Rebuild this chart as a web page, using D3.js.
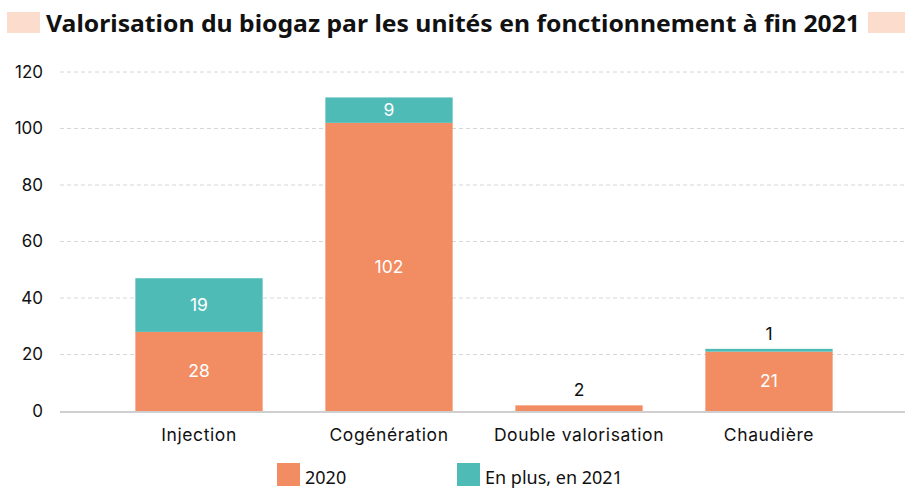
<!DOCTYPE html>
<html>
<head>
<meta charset="utf-8">
<script src="https://cdn.jsdelivr.net/npm/d3@7"></script>
<style>
  body { margin: 0; background: #fff; }
  svg { display: block; }
</style>
</head>
<body>
<svg id="chart" width="909" height="488"></svg>
<script>
var categories = ["Injection", "Cogénération", "Double valorisation", "Chaudière"];
var values2020 = [28, 102, 2, 21];
var values2021 = [19, 9, 0, 1];
var seriesNames = ["2020", "En plus, en 2021"];
var yTicks = [0, 20, 40, 60, 80, 100, 120];
var colors = ["#F28C62", "#4FBBB7"];

var svg = d3.select("#chart"),
    margin = { top: 72, right: 4, bottom: 77, left: 60 },
    width = +svg.attr("width") - margin.left - margin.right,
    height = +svg.attr("height") - margin.top - margin.bottom;

var axisFont = "Inter, 'Open Sans', sans-serif";

// title with peach blocks on both sides
svg.append("rect").attr("x", 7).attr("y", 12).attr("width", 33).attr("height", 21).attr("fill", "#FCDDCD");
svg.append("rect").attr("x", 868).attr("y", 12).attr("width", 37).attr("height", 21).attr("fill", "#FCDDCD");
svg.append("text")
    .attr("x", 453).attr("y", 32)
    .attr("text-anchor", "middle")
    .attr("font-family", "'Noto Sans', sans-serif")
    .attr("font-weight", "bold")
    .attr("font-size", 23)
    .attr("textLength", 814)
    .attr("lengthAdjust", "spacingAndGlyphs")
    .attr("fill", "#111")
    .text("Valorisation du biogaz par les unités en fonctionnement à fin 2021");

var g = svg.append("g").attr("transform", "translate(" + margin.left + "," + margin.top + ")");

var x = d3.scaleBand().domain(categories).range([44, 804]).paddingInner(0.33).paddingOuter(0.165);
var y = d3.scaleLinear().domain([0, 120]).range([height, 0]);

// gridlines
g.selectAll(".grid").data(yTicks.filter(function (d) { return d > 0; }))
    .enter().append("line")
    .attr("x1", 0).attr("x2", width)
    .attr("y1", function (d) { return y(d); })
    .attr("y2", function (d) { return y(d); })
    .attr("stroke", "#d6d6d6")
    .attr("stroke-dasharray", "4,3");

// y axis labels
var yAxis = g.append("g").call(d3.axisLeft(y).tickValues(yTicks).tickSize(0).tickPadding(17));
yAxis.select(".domain").remove();
yAxis.selectAll("text").attr("font-family", axisFont).attr("font-size", 17).attr("fill", "#111");

// stacked bars
var rows = categories.map(function (c, i) {
    return { cat: c, a: values2020[i], b: values2021[i] };
});

rows.forEach(function (d) {
    var bx = x(d.cat), bw = x.bandwidth();
    g.append("rect")
        .attr("x", bx).attr("width", bw)
        .attr("y", y(d.a)).attr("height", y(0) - y(d.a))
        .attr("fill", colors[0]);
    if (d.b > 0) {
        g.append("rect")
            .attr("x", bx).attr("width", bw)
            .attr("y", y(d.a + d.b)).attr("height", y(d.a) - y(d.a + d.b))
            .attr("fill", colors[1]);
    }
    var segs = [[0, d.a], [d.a, d.a + d.b]];
    segs.forEach(function (s) {
        var v = s[1] - s[0];
        if (v <= 0) return;
        var h = y(s[0]) - y(s[1]);
        var inside = h > 20;
        g.append("text")
            .attr("x", bx + bw / 2)
            .attr("y", inside ? (y(s[0]) + y(s[1])) / 2 + 6 : y(d.a + d.b) - 9)
            .attr("text-anchor", "middle")
            .attr("font-family", axisFont)
            .attr("font-size", 17.5)
            .attr("fill", inside ? "#fff" : "#111")
            .text(v);
    });
});

// baseline
g.append("line")
    .attr("x1", 0).attr("x2", width)
    .attr("y1", y(0) + 1).attr("y2", y(0) + 1)
    .attr("stroke", "#cfcfcf").attr("stroke-width", 2);

// category labels
var xAxis = g.append("g").attr("transform", "translate(0," + height + ")")
    .call(d3.axisBottom(x).tickSize(0).tickPadding(18));
xAxis.select(".domain").remove();
xAxis.selectAll("text").attr("font-family", axisFont).attr("font-size", 17.5)
    .attr("letter-spacing", 0.6).attr("fill", "#111");

// legend
var legendX = [277, 457];
var legend = svg.append("g");
seriesNames.forEach(function (n, i) {
    legend.append("rect").attr("x", legendX[i]).attr("y", 463).attr("width", 23).attr("height", 23).attr("fill", colors[i]);
    legend.append("text")
        .attr("x", legendX[i] + 28).attr("y", 484)
        .attr("font-family", "'Noto Sans', sans-serif")
        .attr("font-size", 18)
        .attr("fill", "#111")
        .text(n);
});
</script>
</body>
</html>
